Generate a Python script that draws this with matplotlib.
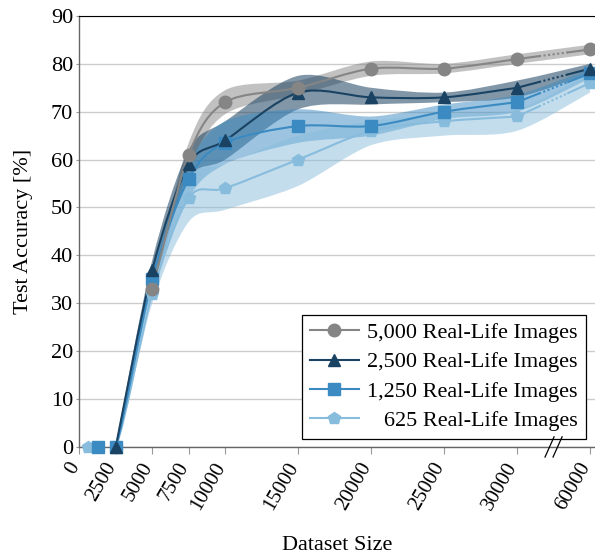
import numpy as np
import matplotlib
matplotlib.use('Agg')
import matplotlib.pyplot as plt
from matplotlib.path import Path
from matplotlib.patches import PathPatch
import matplotlib.transforms as mtransforms

plt.rcParams['font.family'] = ['Liberation Serif', 'DejaVu Serif']

# data
x_5000 = [5000, 7500, 10000, 15000, 20000, 25000, 30000, 60000]
acc_5000 = [33, 61, 72, 75, 79, 79, 81, 83]
lo_5000 = [32, 58, 69.5, 73.5, 77.5, 78, 80, 82]
hi_5000 = [34, 63.5, 74.5, 76.5, 80.5, 80, 82, 84]

x_2500 = [2500, 5000, 7500, 10000, 15000, 20000, 25000, 30000, 60000]
acc_2500 = [0, 37, 59, 64, 74, 73, 73, 75, 79]
lo_2500 = [0, 35, 56, 60, 70.5, 71.5, 72, 73, 78]
hi_2500 = [0.5, 39, 62, 68, 77.5, 75, 74, 76.5, 80]

x_1250 = [1250, 2500, 5000, 7500, 10000, 15000, 20000, 25000, 30000, 60000]
acc_1250 = [0, 0, 35, 56, 63.5, 67, 67, 70, 72, 78]
lo_1250 = [0, 0, 33, 52, 59, 63.5, 65, 68.5, 70, 77]
hi_1250 = [0, 0.5, 37, 59, 68, 70.5, 69, 71.5, 73.5, 79]

x_625 = [625, 2500, 5000, 7500, 10000, 15000, 20000, 25000, 30000, 60000]
acc_625 = [0, 0, 32, 52, 54, 60, 66, 68, 69, 76]
lo_625 = [0, 0, 30, 47, 49.5, 54.5, 63, 65, 66, 74]
hi_625 = [0, 1, 34, 56, 59, 65, 68, 69.5, 70.5, 78]

labels = ['5,000 Real-Life Images', '2,500 Real-Life Images',
          '1,250 Real-Life Images', '   625 Real-Life Images']
colors = ['#858585', '#1a4262', '#3b8bc2', '#88bcdd']
markers = ['o', '^', 's', 'p']

xtick_vals = [0, 2500, 5000, 7500, 10000, 15000, 20000, 25000, 30000, 60000]

FS = 16


# broken axis: 60000 sits two tick steps after 30000
def xpos(v):
    return [x if x <= 30000 else 35000 for x in v]


def smooth(xs, ys, t=0.9):
    verts = [(xs[0], ys[0])]
    n = len(xs)
    for i in range(n - 1):
        a = i - 1 if i > 0 else i
        b = i + 2 if i + 2 < n else i + 1
        c1 = (xs[i] + (xs[i + 1] - xs[a]) * t / 6, ys[i] + (ys[i + 1] - ys[a]) * t / 6)
        c2 = (xs[i + 1] - (xs[b] - xs[i]) * t / 6, ys[i + 1] - (ys[b] - ys[i]) * t / 6)
        verts += [c1, c2, (xs[i + 1], ys[i + 1])]
    return verts


def band(ax, xs, lo, hi, color, alpha):
    up = smooth(xs, hi)
    dn = smooth(xs[::-1], lo[::-1])
    verts = up + dn + [up[0]]
    codes = ([Path.MOVETO] + [Path.CURVE4] * (len(up) - 1) + [Path.LINETO]
             + [Path.CURVE4] * (len(dn) - 1) + [Path.CLOSEPOLY])
    ax.add_patch(PathPatch(Path(verts, codes), facecolor=color, edgecolor='none',
                           alpha=alpha, zorder=2))


def curve(ax, xs, ys, color, marker, label):
    v = smooth(xs[:-1], ys[:-1])
    codes = [Path.MOVETO] + [Path.CURVE4] * (len(v) - 1)
    ax.add_patch(PathPatch(Path(v, codes), facecolor='none', edgecolor=color,
                           lw=1.5, zorder=3, capstyle='round'))
    # last segment across the break: solid - dotted - solid
    x0, x1 = xs[-2], xs[-1]
    y0, y1 = ys[-2], ys[-1]
    f = [0, 0.3, 0.7, 1]
    px = [x0 + (x1 - x0) * k for k in f]
    py = [y0 + (y1 - y0) * k for k in f]
    ax.plot(px[0:2], py[0:2], color=color, lw=1.5, zorder=3)
    ax.plot(px[1:3], py[1:3], color=color, lw=1.5, ls=(0, (1, 1.2)), zorder=3)
    ax.plot(px[2:4], py[2:4], color=color, lw=1.5, zorder=3)
    ax.plot(xs, ys, ls='none', marker=marker, ms=9 if marker != 's' else 8.5,
            color=color, zorder=4, clip_on=False)
    h, = ax.plot([], [], color=color, lw=1.5, marker=marker,
                 ms=9 if marker != 's' else 8.5, label=label)
    return h


fig = plt.figure(figsize=(5.95, 5.57), dpi=100)
ax = fig.add_axes([0.1333, 0.198, 0.8667, 0.7733])

series = [(x_5000, acc_5000, lo_5000, hi_5000),
          (x_2500, acc_2500, lo_2500, hi_2500),
          (x_1250, acc_1250, lo_1250, hi_1250),
          (x_625, acc_625, lo_625, hi_625)]
alphas = [0.5, 0.55, 0.5, 0.5]

for (xs, acc, lo, hi), c, a in zip(series, colors, alphas):
    band(ax, xpos(xs), lo, hi, c, a)

handles = {}
for i in [3, 2, 1, 0]:
    xs, acc, lo, hi = series[i]
    handles[i] = curve(ax, xpos(xs), acc, colors[i], markers[i], labels[i])

ax.set_xlim(0, 35340)
ax.set_ylim(0, 90)
ax.set_yticks(range(0, 91, 10))
ax.set_xticks(xpos(xtick_vals))
ax.set_xticklabels([str(v) for v in xtick_vals], rotation=60, ha='right',
                   va='baseline', rotation_mode='anchor')
ax.yaxis.grid(True, color='#cccccc', lw=1)
ax.set_axisbelow(True)
ax.tick_params(axis='x', direction='out', length=5, color='#999999', labelsize=15, pad=9)
ax.tick_params(axis='y', direction='out', length=2.5, color='#999999', labelsize=FS, pad=2)
for s in ['left', 'bottom']:
    ax.spines[s].set_color('#666666')
    ax.spines[s].set_linewidth(1.0)
ax.spines['top'].set_color('black')
ax.spines['right'].set_visible(False)

# break marks on the x axis
tr = mtransforms.blended_transform_factory(ax.transData, ax.transAxes)
for off in [-275, 275]:
    ax.plot([32500 + off - 310, 32500 + off + 310], [-0.024, 0.023], color='black',
            lw=0.9, transform=tr, clip_on=False, zorder=6)

ax.set_xlabel('Dataset Size', fontsize=FS, labelpad=16)
ax.set_ylabel('Test Accuracy [%]', fontsize=FS, labelpad=13)

leg = ax.legend(handles=[handles[i] for i in range(4)], loc='lower right',
                bbox_to_anchor=(0.9826, 0.0179), borderaxespad=0,
                fancybox=False, framealpha=1, edgecolor='black', fontsize=FS,
                handlelength=2.2, labelspacing=0.4, borderpad=0.35, handletextpad=0.4)
leg.get_frame().set_linewidth(0.9)

fig.savefig('out.png', dpi=100)
